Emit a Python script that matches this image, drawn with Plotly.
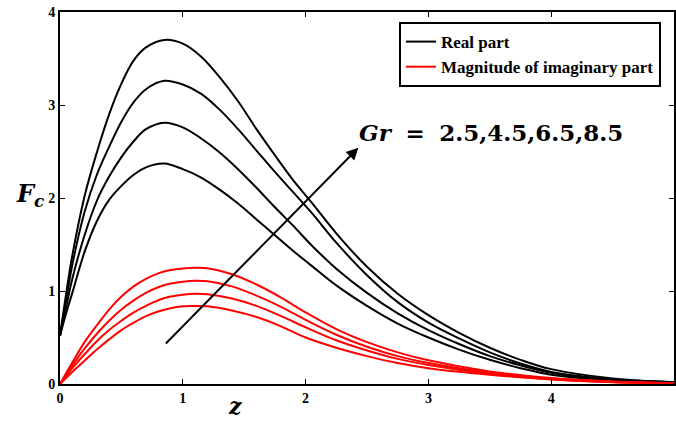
import plotly.graph_objects as go

# ---- data ----
z_real = [0, 0.05, 0.1, 0.2, 0.3, 0.4, 0.5, 0.6, 0.7, 0.85, 1.0, 1.15, 1.3, 1.45, 1.6,
          1.75, 1.9, 2.05, 2.25, 2.5, 2.75, 3.0, 3.25, 3.5, 3.75, 4.0, 4.5, 5.0]
real_gr85 = [0.52, 0.97, 1.38, 2.02, 2.49, 2.90, 3.23, 3.48, 3.62, 3.70, 3.66, 3.52, 3.30,
             3.04, 2.74, 2.46, 2.19, 1.95, 1.62, 1.26, 0.97, 0.74, 0.55, 0.39, 0.26, 0.16,
             0.06, 0.02]
real_gr65 = [0.52, 0.90, 1.28, 1.85, 2.25, 2.55, 2.82, 3.03, 3.17, 3.26, 3.22, 3.12, 2.95,
             2.74, 2.51, 2.28, 2.06, 1.84, 1.52, 1.17, 0.88, 0.66, 0.49, 0.34, 0.22, 0.13,
             0.05, 0.02]
real_gr45 = [0.52, 0.83, 1.13, 1.60, 1.97, 2.23, 2.44, 2.61, 2.74, 2.81, 2.76, 2.64, 2.49,
             2.31, 2.11, 1.90, 1.70, 1.49, 1.24, 0.98, 0.76, 0.58, 0.43, 0.30, 0.20, 0.12,
             0.045, 0.02]
real_gr25 = [0.52, 0.76, 0.98, 1.42, 1.75, 1.98, 2.13, 2.25, 2.33, 2.37, 2.31, 2.22, 2.09,
             1.94, 1.77, 1.60, 1.43, 1.27, 1.06, 0.84, 0.65, 0.50, 0.37, 0.26, 0.17, 0.10,
             0.04, 0.02]

z_imag = [0, 0.1, 0.2, 0.3, 0.4, 0.5, 0.6, 0.7, 0.8, 0.9, 1.0, 1.1, 1.2, 1.4, 1.6, 1.8,
          2.0, 2.25, 2.5, 2.75, 3.0, 3.5, 4.0, 4.5, 5.0]
imag_gr85 = [0, 0.23, 0.45, 0.63, 0.80, 0.94, 1.05, 1.13, 1.19, 1.225, 1.243, 1.25, 1.245,
             1.18, 1.07, 0.93, 0.77, 0.59, 0.45, 0.34, 0.255, 0.135, 0.065, 0.028, 0.01]
imag_gr65 = [0, 0.20, 0.38, 0.54, 0.68, 0.80, 0.90, 0.98, 1.04, 1.08, 1.10, 1.11, 1.105,
             1.05, 0.95, 0.83, 0.69, 0.53, 0.40, 0.30, 0.225, 0.12, 0.058, 0.025, 0.01]
imag_gr45 = [0, 0.17, 0.32, 0.46, 0.58, 0.68, 0.77, 0.84, 0.90, 0.94, 0.96, 0.97, 0.965,
             0.92, 0.84, 0.73, 0.61, 0.47, 0.36, 0.27, 0.205, 0.11, 0.052, 0.022, 0.01]
imag_gr25 = [0, 0.13, 0.25, 0.37, 0.48, 0.58, 0.66, 0.73, 0.78, 0.815, 0.835, 0.84, 0.835,
             0.79, 0.72, 0.62, 0.50, 0.39, 0.30, 0.225, 0.17, 0.10, 0.048, 0.02, 0.01]

x_ticks = [0, 1, 2, 3, 4]
y_ticks = [0, 1, 2, 3, 4]

real_series = [real_gr25, real_gr45, real_gr65, real_gr85]
imag_series = [imag_gr25, imag_gr45, imag_gr65, imag_gr85]

fig = go.Figure()
for i, ys in enumerate(real_series):
    fig.add_trace(go.Scatter(x=z_real, y=ys, mode="lines",
                             line=dict(color="black", width=2, shape="spline", smoothing=1.0),
                             name="Real part", showlegend=(i == 0)))
for i, ys in enumerate(imag_series):
    fig.add_trace(go.Scatter(x=z_imag, y=ys, mode="lines",
                             line=dict(color="#ff0000", width=2, shape="spline", smoothing=1.0),
                             name="Magnitude of imaginary part", showlegend=(i == 0)))

serif = "Liberation Serif"
axis_common = dict(showline=True, linecolor="black", linewidth=2, mirror="ticks",
                   ticks="inside", ticklen=5, tickwidth=1, tickcolor="black",
                   showgrid=False, zeroline=False,
                   tickfont=dict(family=serif, size=14, color="black", weight="bold"))

fig.update_layout(
    width=676, height=421,
    margin=dict(l=60, r=0, t=12, b=37),
    paper_bgcolor="white", plot_bgcolor="white",
    xaxis=dict(range=[0, 5], tickvals=x_ticks, **axis_common),
    yaxis=dict(range=[0, 4], tickvals=y_ticks, **axis_common),
    legend=dict(x=0.552, y=0.973, xanchor="left", yanchor="top",
                bordercolor="black", borderwidth=2, bgcolor="white",
                font=dict(family=serif, size=17, color="black", weight="bold"),
                itemwidth=30, tracegroupgap=0),
    annotations=[
        dict(x=2.43, y=2.54, ax=0.85, ay=0.42, xref="x", yref="y", axref="x", ayref="y",
             showarrow=True, arrowhead=2, arrowsize=1.2, arrowwidth=2, arrowcolor="black",
             text=""),
        dict(x=0.484, y=0.677, xref="paper", yref="paper", xanchor="left", yanchor="middle",
             showarrow=False,
             text="<b><i>Gr</i></b>&nbsp;&nbsp;<b>=</b>&nbsp;&nbsp;<b>2.5,4.5,6.5,8.5</b>",
             font=dict(family="DejaVu Serif", size=23, color="black")),
        dict(x=-0.0227, y=0.508, xref="paper", yref="paper", xanchor="right",
             yanchor="middle", showarrow=False,
             text="<b><i>F</i></b><sub><b><i>c</i></b></sub>",
             font=dict(family="DejaVu Serif", size=24, color="black")),
        dict(x=0.27, y=-0.1, xref="paper", yref="paper", showarrow=False,
             text="<b><i>z</i></b>",
             font=dict(family="DejaVu Serif", size=22, color="black")),
    ],
)

fig.write_html("out.html")
